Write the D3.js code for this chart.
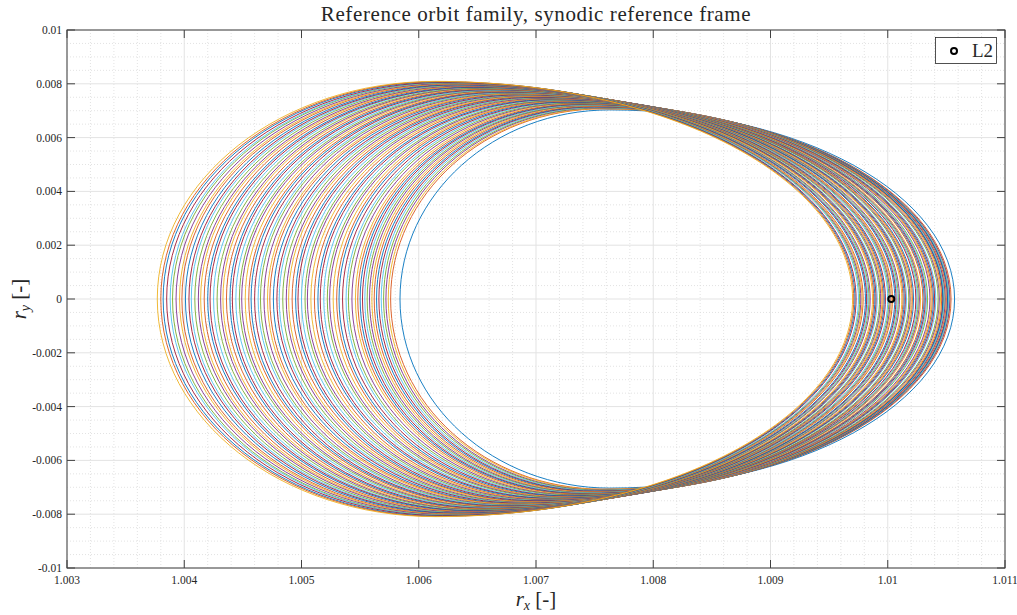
<!DOCTYPE html>
<html>
<head>
<meta charset="utf-8">
<script src="https://cdn.jsdelivr.net/npm/d3@7"></script>
<style>
  html, body { margin: 0; padding: 0; background: #fff; }
  svg { display: block; }
  text { font-family: "Liberation Serif", "DejaVu Serif", serif; fill: #262626; }
</style>
</head>
<body>
<svg id="chart" width="1017" height="615"></svg>
<script>
// Planar Lyapunov orbit family about L2, upper/lower halves symmetric about r_y = 0.
// Each orbit: left crossing xL, right crossing xR, apex (xT, yT).
const orbitLeftX = [
  1.00584, 1.00576, 1.00574, 1.00572, 1.00570, 1.00568, 1.00566, 1.00564, 1.00562, 1.00560,
  1.00558, 1.00556, 1.00554, 1.00552, 1.00550, 1.00548, 1.00546, 1.00543, 1.00540, 1.00538,
  1.00535, 1.00532, 1.00530, 1.00527, 1.00524, 1.00522, 1.00519, 1.00516, 1.00514, 1.00511,
  1.00508, 1.00505, 1.00503, 1.00500, 1.00497, 1.00495, 1.00492, 1.00489, 1.00487, 1.00484,
  1.00481, 1.00479, 1.00476, 1.00473, 1.00471, 1.00468, 1.00465, 1.00463, 1.00460, 1.00457,
  1.00455, 1.00452, 1.00449, 1.00447, 1.00444, 1.00441, 1.00439, 1.00436, 1.00433, 1.00431,
  1.00428, 1.00425, 1.00422, 1.00420, 1.00417, 1.00414, 1.00412, 1.00409, 1.00406, 1.00404,
  1.00401, 1.00398, 1.00396, 1.00393, 1.00390, 1.00388, 1.00385, 1.00382, 1.00380, 1.00377
];
const orbitRightX = [
  1.01057, 1.01054, 1.01053, 1.01053, 1.01052, 1.01052, 1.01051, 1.01051, 1.01050, 1.01049,
  1.01049, 1.01048, 1.01048, 1.01047, 1.01047, 1.01046, 1.01045, 1.01044, 1.01043, 1.01041,
  1.01040, 1.01039, 1.01038, 1.01037, 1.01036, 1.01034, 1.01033, 1.01032, 1.01031, 1.01030,
  1.01028, 1.01027, 1.01026, 1.01025, 1.01024, 1.01022, 1.01021, 1.01020, 1.01019, 1.01018,
  1.01016, 1.01015, 1.01014, 1.01013, 1.01012, 1.01010, 1.01009, 1.01008, 1.01007, 1.01006,
  1.01004, 1.01003, 1.01002, 1.01001, 1.01000, 1.00998, 1.00997, 1.00996, 1.00995, 1.00994,
  1.00993, 1.00991, 1.00990, 1.00989, 1.00988, 1.00987, 1.00985, 1.00984, 1.00983, 1.00982,
  1.00981, 1.00979, 1.00978, 1.00977, 1.00976, 1.00975, 1.00973, 1.00972, 1.00971, 1.00970
];
const orbitApexX = [
  1.00763, 1.00757, 1.00756, 1.00754, 1.00753, 1.00751, 1.00750, 1.00749, 1.00747, 1.00746,
  1.00744, 1.00743, 1.00741, 1.00740, 1.00739, 1.00737, 1.00735, 1.00733, 1.00731, 1.00729,
  1.00727, 1.00725, 1.00723, 1.00722, 1.00720, 1.00718, 1.00716, 1.00714, 1.00712, 1.00710,
  1.00708, 1.00706, 1.00704, 1.00702, 1.00700, 1.00698, 1.00697, 1.00695, 1.00693, 1.00691,
  1.00689, 1.00687, 1.00685, 1.00683, 1.00681, 1.00679, 1.00677, 1.00675, 1.00673, 1.00672,
  1.00670, 1.00668, 1.00666, 1.00664, 1.00662, 1.00660, 1.00658, 1.00656, 1.00654, 1.00652,
  1.00650, 1.00648, 1.00647, 1.00645, 1.00643, 1.00641, 1.00639, 1.00637, 1.00635, 1.00633,
  1.00631, 1.00629, 1.00627, 1.00625, 1.00623, 1.00622, 1.00620, 1.00618, 1.00616, 1.00614
];
const orbitApexY = [
  0.00703, 0.00707, 0.00708, 0.00710, 0.00711, 0.00712, 0.00714, 0.00715, 0.00716, 0.00718,
  0.00719, 0.00720, 0.00721, 0.00723, 0.00724, 0.00725, 0.00727, 0.00728, 0.00729, 0.00731,
  0.00732, 0.00733, 0.00735, 0.00736, 0.00737, 0.00738, 0.00740, 0.00741, 0.00742, 0.00744,
  0.00745, 0.00746, 0.00748, 0.00749, 0.00750, 0.00752, 0.00753, 0.00754, 0.00756, 0.00757,
  0.00758, 0.00759, 0.00761, 0.00762, 0.00763, 0.00765, 0.00766, 0.00767, 0.00769, 0.00770,
  0.00771, 0.00773, 0.00774, 0.00775, 0.00776, 0.00778, 0.00779, 0.00780, 0.00782, 0.00783,
  0.00784, 0.00786, 0.00787, 0.00788, 0.00790, 0.00791, 0.00792, 0.00794, 0.00795, 0.00796,
  0.00797, 0.00799, 0.00800, 0.00801, 0.00803, 0.00804, 0.00805, 0.00807, 0.00808, 0.00809
];

// Libration point L2
const l2Point = [1.01003, 0];

// Axis ticks and labels
const xTicks = [1.003, 1.004, 1.005, 1.006, 1.007, 1.008, 1.009, 1.010, 1.011];
const xTickLabels = ["1.003", "1.004", "1.005", "1.006", "1.007", "1.008", "1.009", "1.01", "1.011"];
const yTicks = [-0.01, -0.008, -0.006, -0.004, -0.002, 0, 0.002, 0.004, 0.006, 0.008, 0.01];
const yTickLabels = ["-0.01", "-0.008", "-0.006", "-0.004", "-0.002", "0", "0.002", "0.004", "0.006", "0.008", "0.01"];

// Default line colour order
const colorOrder = ["#0072BD", "#D95319", "#EDB120", "#7E2F8E", "#77AC30", "#4DBEEE", "#A2142F"];

const margin = { left: 67, right: 1005, top: 30, bottom: 568 };
const svg = d3.select("#chart");

const x = d3.scaleLinear().domain([1.003, 1.011]).range([margin.left, margin.right]);
const y = d3.scaleLinear().domain([-0.01, 0.01]).range([margin.bottom, margin.top]);

// Grid
const minorX = d3.range(1.003, 1.0110001, 0.0002).filter(v => Math.abs((v - 1.003) / 0.001 - Math.round((v - 1.003) / 0.001)) > 1e-6);
const minorY = d3.range(-0.01, 0.0100001, 0.0005).filter(v => Math.abs(v / 0.002 - Math.round(v / 0.002)) > 1e-6);

const grid = svg.append("g");
grid.selectAll(".mx").data(minorX).join("line")
  .attr("x1", d => x(d)).attr("x2", d => x(d))
  .attr("y1", margin.top).attr("y2", margin.bottom)
  .attr("stroke", "#dcdcdc").attr("stroke-width", 0.8).attr("stroke-dasharray", "1,2");
grid.selectAll(".my").data(minorY).join("line")
  .attr("y1", d => y(d)).attr("y2", d => y(d))
  .attr("x1", margin.left).attr("x2", margin.right)
  .attr("stroke", "#dcdcdc").attr("stroke-width", 0.8).attr("stroke-dasharray", "1,2");
grid.selectAll(".gx").data(xTicks).join("line")
  .attr("x1", d => x(d)).attr("x2", d => x(d))
  .attr("y1", margin.top).attr("y2", margin.bottom)
  .attr("stroke", "#e3e3e3").attr("stroke-width", 1);
grid.selectAll(".gy").data(yTicks).join("line")
  .attr("y1", d => y(d)).attr("y2", d => y(d))
  .attr("x1", margin.left).attr("x2", margin.right)
  .attr("stroke", "#e3e3e3").attr("stroke-width", 1);

// Clip
svg.append("clipPath").attr("id", "plotClip").append("rect")
  .attr("x", margin.left).attr("y", margin.top)
  .attr("width", margin.right - margin.left).attr("height", margin.bottom - margin.top);

// Orbit outline: each quarter is a curve joining an axis crossing to the apex.
const kLeft = 0.5523, kRight = 0.5523;
function orbitPath(i) {
  const lx = x(orbitLeftX[i]), rx = x(orbitRightX[i]), tx = x(orbitApexX[i]);
  const y0 = y(0), ty = y(orbitApexY[i]), by = y(-orbitApexY[i]);
  const p = d3.path();
  p.moveTo(lx, y0);
  p.bezierCurveTo(lx, y0 - kLeft * (y0 - ty), tx - kLeft * (tx - lx), ty, tx, ty);
  p.bezierCurveTo(tx + kRight * (rx - tx), ty, rx, y0 - kRight * (y0 - ty), rx, y0);
  p.bezierCurveTo(rx, y0 + kRight * (by - y0), tx + kRight * (rx - tx), by, tx, by);
  p.bezierCurveTo(tx - kLeft * (tx - lx), by, lx, y0 + kLeft * (by - y0), lx, y0);
  p.closePath();
  return p.toString();
}

const orbitIdx = d3.range(orbitLeftX.length);
svg.append("g").attr("clip-path", "url(#plotClip)")
  .selectAll("path").data(orbitIdx).join("path")
  .attr("d", d => orbitPath(d))
  .attr("fill", "none")
  .attr("stroke", d => colorOrder[d % colorOrder.length])
  .attr("stroke-width", 0.9);

// L2 marker
svg.append("circle")
  .attr("cx", x(l2Point[0])).attr("cy", y(l2Point[1])).attr("r", 3)
  .attr("fill", "none").attr("stroke", "#000").attr("stroke-width", 2);

// Axes box and inward ticks
const axisColor = "#404040";
svg.append("rect")
  .attr("x", margin.left).attr("y", margin.top)
  .attr("width", margin.right - margin.left).attr("height", margin.bottom - margin.top)
  .attr("fill", "none").attr("stroke", axisColor).attr("stroke-width", 1);

const tickLen = 8;
const axes = svg.append("g").attr("stroke", axisColor).attr("stroke-width", 1);
xTicks.forEach(v => {
  axes.append("line").attr("x1", x(v)).attr("x2", x(v)).attr("y1", margin.bottom).attr("y2", margin.bottom - tickLen);
  axes.append("line").attr("x1", x(v)).attr("x2", x(v)).attr("y1", margin.top).attr("y2", margin.top + tickLen);
});
yTicks.forEach(v => {
  axes.append("line").attr("y1", y(v)).attr("y2", y(v)).attr("x1", margin.left).attr("x2", margin.left + tickLen);
  axes.append("line").attr("y1", y(v)).attr("y2", y(v)).attr("x1", margin.right).attr("x2", margin.right - tickLen);
});

// Tick labels
svg.append("g").selectAll("text").data(xTicks).join("text")
  .attr("x", d => x(d)).attr("y", margin.bottom + 16)
  .attr("text-anchor", "middle").attr("font-size", 11.5)
  .text((d, i) => xTickLabels[i]);
svg.append("g").selectAll("text").data(yTicks).join("text")
  .attr("x", margin.left - 5).attr("y", d => y(d) + 4)
  .attr("text-anchor", "end").attr("font-size", 11.5)
  .text((d, i) => yTickLabels[i]);

// Title
svg.append("text")
  .attr("x", (margin.left + margin.right) / 2).attr("y", 21)
  .attr("text-anchor", "middle").attr("font-size", 21).attr("letter-spacing", 0.6).attr("fill", "#000")
  .text("Reference orbit family, synodic reference frame");

// Axis labels
const xl = svg.append("text")
  .attr("x", (margin.left + margin.right) / 2).attr("y", 606)
  .attr("text-anchor", "middle").attr("font-size", 21);
xl.append("tspan").attr("font-style", "italic").text("r");
xl.append("tspan").attr("font-style", "italic").attr("font-size", 14).attr("dy", 4).text("x");
xl.append("tspan").attr("dy", -4).text(" [-]");

const yl = svg.append("text")
  .attr("transform", `translate(26, ${(margin.top + margin.bottom) / 2}) rotate(-90)`)
  .attr("text-anchor", "middle").attr("font-size", 21);
yl.append("tspan").attr("font-style", "italic").text("r");
yl.append("tspan").attr("font-style", "italic").attr("font-size", 14).attr("dy", 4).text("y");
yl.append("tspan").attr("dy", -4).text(" [-]");

// Legend
const lg = svg.append("g");
lg.append("rect").attr("x", 935.5).attr("y", 37.5).attr("width", 61).attr("height", 26)
  .attr("fill", "#fff").attr("stroke", "#262626").attr("stroke-width", 0.8);
lg.append("circle").attr("cx", 954).attr("cy", 51).attr("r", 3)
  .attr("fill", "none").attr("stroke", "#000").attr("stroke-width", 2);
lg.append("text").attr("x", 972).attr("y", 57).attr("font-size", 19).attr("fill", "#000").text("L2");
</script>
</body>
</html>
